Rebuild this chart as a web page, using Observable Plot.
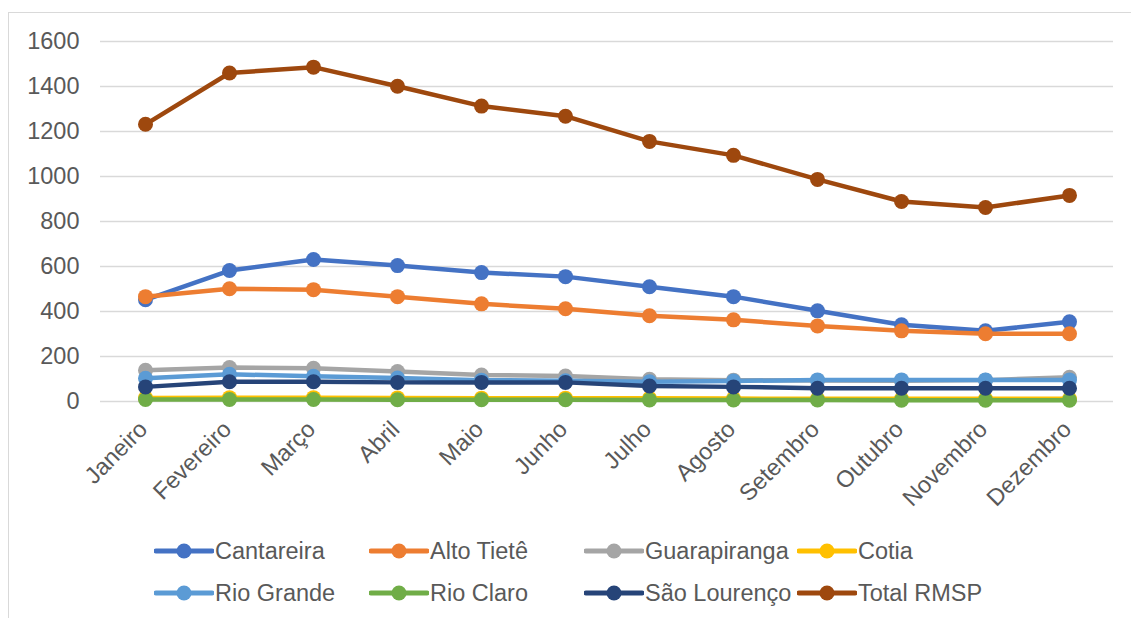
<!DOCTYPE html>
<html>
<head>
<meta charset="utf-8">
<script src="https://cdn.jsdelivr.net/npm/d3@7"></script>
<script src="https://cdn.jsdelivr.net/npm/@observablehq/plot@0.6"></script>
<style>
  html, body { margin: 0; padding: 0; background: #fff; overflow: hidden; }
  #wrap { position: relative; width: 1131px; height: 618px; font-family: "Liberation Sans", Arial, sans-serif; }
  #frame { position: absolute; left: 8px; top: 12px; width: 1140px; height: 640px;
           border-left: 1.4px solid #d9d9d9; border-top: 1.4px solid #d9d9d9; box-sizing: border-box; }
  #chart { position: absolute; left: 0; top: 0; }
  .leg { position: absolute; display: flex; align-items: center; font-size: 23.5px; color: #595959; white-space: nowrap; }
  .leg svg { display: block; margin-right: 1px; }
</style>
</head>
<body>
<div id="wrap">
  <div id="frame"></div>
  <div id="chart"></div>
</div>
<script>
// Monthly values per supply system (RMSP)
const months = ["Janeiro", "Fevereiro", "Março", "Abril", "Maio", "Junho",
                "Julho", "Agosto", "Setembro", "Outubro", "Novembro", "Dezembro"];
const cantareira   = [452, 582, 631, 604, 573, 555, 510, 466, 403, 341, 314, 354];
const altoTiete    = [466, 501, 497, 466, 434, 412, 381, 363, 336, 314, 301, 301];
const guarapiranga = [139, 151, 148, 133, 118, 113, 99, 95, 93, 92, 95, 108];
const cotia        = [16, 17, 17, 16, 15, 15, 14, 13, 12, 12, 12, 12];
const rioGrande    = [103, 121, 112, 104, 95, 92, 88, 91, 96, 96, 96, 96];
const rioClaro     = [9, 9, 9, 8, 8, 8, 7, 7, 7, 6, 6, 6];
const saoLourenco  = [65, 88, 88, 85, 85, 85, 69, 65, 59, 59, 59, 59];
const totalRMSP    = [1232, 1460, 1486, 1401, 1313, 1268, 1156, 1094, 987, 889, 862, 916];
const yTicks = [0, 200, 400, 600, 800, 1000, 1200, 1400, 1600];

const series = [
  {name: "Cantareira",   values: cantareira,   color: "#4472C4"},
  {name: "Alto Tietê",   values: altoTiete,    color: "#ED7D31"},
  {name: "Guarapiranga", values: guarapiranga, color: "#A5A5A5"},
  {name: "Cotia",        values: cotia,        color: "#FFC000"},
  {name: "Rio Grande",   values: rioGrande,    color: "#5B9BD5"},
  {name: "Rio Claro",    values: rioClaro,     color: "#70AD47"},
  {name: "São Lourenço", values: saoLourenco,  color: "#264478"},
  {name: "Total RMSP",   values: totalRMSP,    color: "#9E480E"}
];

// Each series: line first, then its markers, in legend order
const seriesMarks = series.flatMap(s => {
  const rows = months.map((m, i) => ({month: m, value: s.values[i]}));
  return [
    Plot.line(rows, {x: "month", y: "value", stroke: s.color, strokeWidth: 4.5,
                     strokeLinejoin: "round", strokeLinecap: "round"}),
    Plot.dot(rows, {x: "month", y: "value", r: 7.5, fill: s.color, stroke: "none"})
  ];
});

const chart = Plot.plot({
  width: 1131,
  height: 530,
  marginLeft: 100,
  marginRight: 18,
  marginTop: 41,
  marginBottom: 129,
  style: {fontFamily: "'Liberation Sans', Arial, sans-serif", fontSize: "23.5px", color: "#595959", background: "transparent"},
  x: {type: "point", domain: months, padding: 0.5},
  y: {domain: [0, 1600]},
  marks: [
    Plot.gridY(yTicks, {stroke: "#d9d9d9", strokeOpacity: 1, strokeWidth: 1.4}),
    Plot.axisY(yTicks, {tickSize: 0, tickPadding: 21, label: null, fill: "#595959", tickFormat: d => String(d)}),
    Plot.axisX({tickSize: 0, tickPadding: 24, dx: -2, tickRotate: -45, label: null, fill: "#595959"}),
    ...seriesMarks
  ]
});
document.getElementById("chart").appendChild(chart);

// Legend: two rows of four entries
const wrap = document.getElementById("wrap");
const colX = [154, 369, 584, 797];
const rowY = [551, 593];
series.forEach((s, i) => {
  const el = document.createElement("div");
  el.className = "leg";
  el.style.left = colX[i % 4] + "px";
  el.style.top = (rowY[Math.floor(i / 4)] - 15) + "px";
  el.style.height = "30px";
  el.innerHTML =
    `<svg width="60" height="20"><line x1="2" x2="58" y1="10" y2="10" stroke="${s.color}" stroke-width="5" stroke-linecap="round"/>` +
    `<circle cx="30" cy="10" r="7.5" fill="${s.color}"/></svg><span>${s.name}</span>`;
  wrap.appendChild(el);
});
</script>
</body>
</html>
